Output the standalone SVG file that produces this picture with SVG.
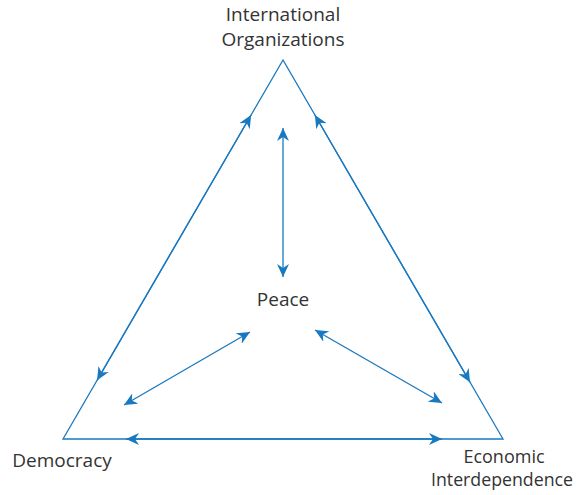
<svg xmlns="http://www.w3.org/2000/svg" width="581" height="495" viewBox="0 0 581 495">
<style>
.edge{fill:none;stroke:#1878c0;stroke-width:1.3}
.con{fill:none;stroke:#1878c0;stroke-width:1.3;marker-start:url(#ah);marker-end:url(#ah)}
.lbl{font-family:"Open Sans","Noto Sans",sans-serif;font-size:19px;fill:#333;text-anchor:middle}
.sm{font-size:18px}
</style>
<defs>
<marker id="ah" markerUnits="userSpaceOnUse" markerWidth="14" markerHeight="12" viewBox="0 0 14 12" refX="13" refY="6" orient="auto-start-reverse">
<path d="M0,0 L13,6 L0,12 L4,6 Z" fill="#1878c0"/>
</marker>
</defs>
<rect width="581" height="495" fill="#fff"/>
<g id="triangle">
<polygon class="edge" points="283,60 63,439 503,439"/>
</g>
<g id="connectors">
<line class="con" x1="251.1" y1="115" x2="97.1" y2="380.3"/>
<line class="con" x1="314.9" y1="115" x2="470" y2="382.2"/>
<line class="con" x1="126" y1="439" x2="442" y2="439"/>
<line class="con" x1="283" y1="128" x2="283" y2="277"/>
<line class="con" x1="250" y1="332" x2="124" y2="405"/>
<line class="con" x1="315" y1="330" x2="442" y2="403"/>
</g>
<g id="node-io">
<text class="lbl" x="283" y="21">International</text>
<text class="lbl" x="283" y="46">Organizations</text>
</g>
<g id="node-peace">
<text class="lbl" x="283" y="306">Peace</text>
</g>
<g id="node-democracy">
<text class="lbl" x="62" y="467">Democracy</text>
</g>
<g id="node-econ">
<text class="lbl sm" x="504" y="463">Economic</text>
<text class="lbl sm" x="502" y="486" textLength="142" lengthAdjust="spacingAndGlyphs">Interdependence</text>
</g>
</svg>
